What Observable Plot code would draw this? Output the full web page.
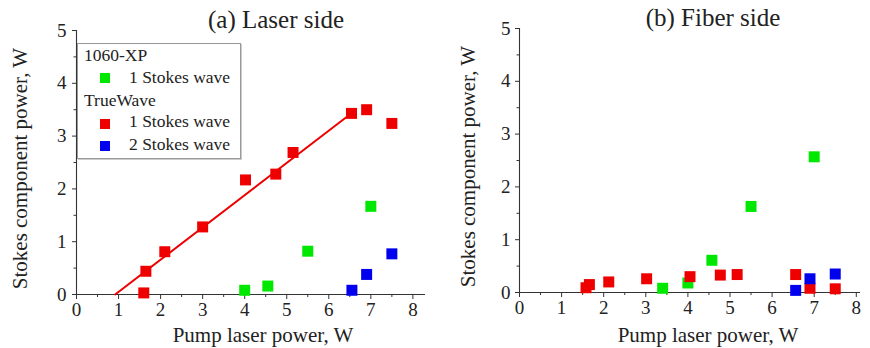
<!DOCTYPE html>
<html><head><meta charset="utf-8">
<script src="https://cdn.jsdelivr.net/npm/d3@7"></script>
<script src="https://cdn.jsdelivr.net/npm/@observablehq/plot@0.6"></script>
<style>
body{margin:0;background:#fff;}
#wrap{position:relative;width:870px;height:348px;display:flex;font-family:"Liberation Serif",serif;color:#222;overflow:hidden;}
#wrap svg{display:block;}
.legend{position:absolute;left:77px;top:43px;width:162px;height:114px;border:1px solid #999;box-shadow:1px 1px 0 #ccc;background:#fff;font-size:17.5px;line-height:17.5px;}
.legend div{position:absolute;white-space:nowrap;}
.legend .sw{width:10px;height:10px;}
</style>
</head><body>
<div id="wrap"></div>
<script>
// Ticks
const xTicks = [0, 1, 2, 3, 4, 5, 6, 7, 8];
const xMinor = [0.5, 1.5, 2.5, 3.5, 4.5, 5.5, 6.5, 7.5];
const yTicks = [0, 1, 2, 3, 4, 5];
const yMinor = [0.5, 1.5, 2.5, 3.5, 4.5];

// Series names / colours
const seriesNames = ["1060-XP: 1 Stokes wave", "TrueWave: 1 Stokes wave", "TrueWave: 2 Stokes wave"];
const seriesColors = ["#00e800", "#ee0000", "#0000ee"];

// (a) Laser side
const aGreenX = [4.0, 4.55, 5.5, 7.0];
const aGreenY = [0.08, 0.16, 0.82, 1.67];
const aRedX = [1.6, 1.65, 2.1, 3.0, 4.02, 4.74, 5.15, 6.54, 6.9, 7.5];
const aRedY = [0.03, 0.44, 0.81, 1.28, 2.17, 2.28, 2.69, 3.43, 3.5, 3.24];
const aBlueX = [6.55, 6.9, 7.5];
const aBlueY = [0.08, 0.38, 0.77];
const aFitX = [0.92, 6.47];
const aFitY = [0, 3.39];

// (b) Fiber side
const bGreenX = [3.4, 4.0, 4.57, 5.5, 7.0];
const bGreenY = [0.08, 0.18, 0.61, 1.63, 2.57];
const bRedX = [1.58, 1.66, 2.12, 3.02, 4.05, 4.77, 5.17, 6.56, 6.9, 7.5];
const bRedY = [0.09, 0.15, 0.20, 0.26, 0.30, 0.33, 0.34, 0.34, 0.08, 0.07];
const bBlueX = [6.56, 6.9, 7.5];
const bBlueY = [0.04, 0.26, 0.35];

const zip = (xs, ys) => xs.map((x, i) => ({x, y: ys[i]}));
const AX = "#333";
const fmt = d => String(d);

function panel(p) {
  const marks = [
    Plot.ruleY([0], {stroke: AX, strokeWidth: 1.1}),
    Plot.ruleX([0], {stroke: AX, strokeWidth: 1.1}),
    Plot.axisX({ticks: xTicks, tickSize: 5, tickPadding: 3, tickFormat: fmt, fontSize: 19, label: null, stroke: AX}),
    Plot.axisX({ticks: xMinor, tickSize: 3, tickFormat: () => "", label: null, stroke: AX}),
    Plot.axisY({ticks: yTicks, tickSize: 4, tickPadding: p.yPad, tickFormat: fmt, fontSize: 19, label: null, stroke: AX}),
    Plot.axisY({ticks: yMinor, tickSize: 2.5, tickFormat: () => "", label: null, stroke: AX}),
  ];
  if (p.fit) marks.push(Plot.line(p.fit, {x: "x", y: "y", stroke: seriesColors[1], strokeWidth: 2}));
  marks.push(
    Plot.dot(p.green, {x: "x", y: "y", symbol: "square", r: 6.2, fill: seriesColors[0], stroke: null}),
    Plot.dot(p.red, {x: "x", y: "y", symbol: "square", r: 6.2, fill: seriesColors[1], stroke: null}),
    Plot.dot(p.blue, {x: "x", y: "y", symbol: "square", r: 6.2, fill: seriesColors[2], stroke: null}),
    Plot.text([p.title], {text: d => d, frameAnchor: "top", textAnchor: "middle", lineAnchor: "middle", dx: p.titleDx, dy: -11, fontSize: 25, fill: "#222"}),
    Plot.text(["Pump laser power, W"], {text: d => d, frameAnchor: "bottom", textAnchor: "middle", lineAnchor: "middle", dx: p.xlabDx, dy: p.xlabDy, fontSize: 21, fill: "#222"}),
    Plot.text(["Stokes component power, W"], {text: d => d, frameAnchor: "left", textAnchor: "middle", lineAnchor: "middle", rotate: -90, dx: p.ylabDx, dy: 6, fontSize: 21, fill: "#222"})
  );
  return Plot.plot({
    width: 435, height: 348,
    marginLeft: p.ml, marginRight: 10, marginTop: p.mt, marginBottom: p.mb,
    x: {domain: [0, p.xMax], axis: null},
    y: {domain: [0, 5], axis: null},
    style: {fontFamily: "'Liberation Serif', serif", fontSize: "19px", color: "#222", background: "transparent"},
    marks
  });
}

const wrap = document.getElementById("wrap");
wrap.appendChild(panel({
  green: zip(aGreenX, aGreenY), red: zip(aRedX, aRedY), blue: zip(aBlueX, aBlueY), fit: zip(aFitX, aFitY),
  title: "(a) Laser side", xMax: 8.3, ml: 76, mt: 30, mb: 54, yPad: 6,
  titleDx: 25, xlabDx: 12, xlabDy: 41, ylabDx: -56
}));
wrap.appendChild(panel({
  green: zip(bGreenX, bGreenY), red: zip(bRedX, bRedY), blue: zip(bBlueX, bBlueY), fit: null,
  title: "(b) Fiber side", xMax: 8.1, ml: 84, mt: 28, mb: 56, yPad: 5,
  titleDx: 23, xlabDx: 18, xlabDy: 43, ylabDx: -51
}));

// Legend (HTML overlay)
const legend = document.createElement("div");
legend.className = "legend";
const items = [
  {type: "head", text: "1060-XP", top: 3.3},
  {type: "item", text: "1 Stokes wave", top: 25.3, sw: 29, color: seriesColors[0]},
  {type: "head", text: "TrueWave", top: 48.3},
  {type: "item", text: "1 Stokes wave", top: 69.3, sw: 75, color: seriesColors[1]},
  {type: "item", text: "2 Stokes wave", top: 92.3, sw: 97, color: seriesColors[2]}
];
for (const it of items) {
  const t = document.createElement("div");
  t.textContent = it.text;
  t.style.top = it.top + "px";
  t.style.left = (it.type === "head" ? 6 : 51) + "px";
  legend.appendChild(t);
  if (it.type === "item") {
    const s = document.createElement("div");
    s.className = "sw";
    s.style.top = it.sw + "px";
    s.style.left = "22px";
    s.style.background = it.color;
    legend.appendChild(s);
  }
}
wrap.appendChild(legend);
</script>
</body></html>
